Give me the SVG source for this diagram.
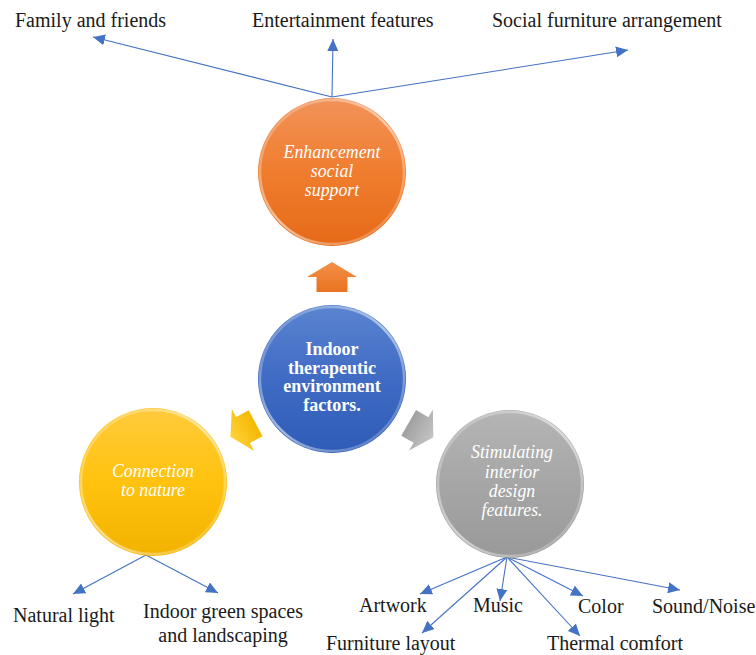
<svg xmlns="http://www.w3.org/2000/svg" width="756" height="655" viewBox="0 0 756 655">
<defs>
<style>
.lbl{font-family:"Liberation Serif","Times New Roman",serif;font-size:20px;fill:#1a1a1a}
.ct{font-family:"Liberation Serif","Times New Roman",serif;font-size:17.8px;font-style:italic;fill:#ffffff;text-anchor:middle}
.cb{font-family:"Liberation Serif","Times New Roman",serif;font-size:18px;font-weight:bold;fill:#ffffff;text-anchor:middle}
.con{stroke:#4472C4;stroke-width:1.1;fill:none;marker-end:url(#ah)}
.rim{fill:none;stroke:url(#rimg);stroke-width:2.5}
</style>
<marker id="ah" markerUnits="userSpaceOnUse" markerWidth="13" markerHeight="11" refX="12" refY="5.5" orient="auto">
<path d="M0,0 L12,5.5 L0,11 z" fill="#4472C4"/>
</marker>
<linearGradient id="gOr" x1="0" y1="0" x2="0" y2="1">
<stop offset="0" stop-color="#F2935A"/><stop offset="0.5" stop-color="#F07D2E"/><stop offset="1" stop-color="#E56A18"/>
</linearGradient>
<linearGradient id="gBl" x1="0" y1="0" x2="0" y2="1">
<stop offset="0" stop-color="#5B84D0"/><stop offset="0.5" stop-color="#3F6BC4"/><stop offset="1" stop-color="#2E5CB6"/>
</linearGradient>
<linearGradient id="gYe" x1="0" y1="0" x2="0" y2="1">
<stop offset="0" stop-color="#FFCB3C"/><stop offset="0.5" stop-color="#FFC20E"/><stop offset="1" stop-color="#F2B300"/>
</linearGradient>
<linearGradient id="gGr" x1="0" y1="0" x2="0" y2="1">
<stop offset="0" stop-color="#B5B5B5"/><stop offset="0.5" stop-color="#A6A6A6"/><stop offset="1" stop-color="#999999"/>
</linearGradient>
<linearGradient id="rimg" x1="0" y1="0" x2="1" y2="1">
<stop offset="0" stop-color="#ffffff" stop-opacity="0.1"/><stop offset="0.5" stop-color="#ffffff" stop-opacity="0.55"/><stop offset="1" stop-color="#ffffff" stop-opacity="0.1"/>
</linearGradient>
<linearGradient id="aOr" x1="0" y1="0" x2="0" y2="1">
<stop offset="0" stop-color="#F4904A"/><stop offset="1" stop-color="#E8731F"/>
</linearGradient>
<linearGradient id="aYe" x1="0" y1="0" x2="0" y2="1">
<stop offset="0" stop-color="#FFD23A"/><stop offset="1" stop-color="#F5B800"/>
</linearGradient>
<linearGradient id="aGr" x1="0" y1="0" x2="0" y2="1">
<stop offset="0" stop-color="#C4C4C4"/><stop offset="1" stop-color="#A0A0A0"/>
</linearGradient>
<path id="upArrow" d="M0,-15 L25,0 L15.5,0 L15.5,15 L-15.5,15 L-15.5,0 L-25,0 Z"/>
</defs>
<rect width="756" height="655" fill="#ffffff"/>

<g id="connectors">
<path class="con" d="M332,97 L93,37"/>
<path class="con" d="M332,97 L333,39"/>
<path class="con" d="M332,97 L628,50"/>
<path class="con" d="M146,555 L73,594"/>
<path class="con" d="M146,555 L218,593"/>
<path class="con" d="M507,557 L420,594"/>
<path class="con" d="M507,557 L422,633"/>
<path class="con" d="M507,557 L500,601"/>
<path class="con" d="M507,557 L580,636"/>
<path class="con" d="M507,557 L583,596"/>
<path class="con" d="M507,557 L680,590"/>
</g>

<g id="block-arrows">
<use href="#upArrow" transform="translate(332,277)" fill="url(#aOr)"/>
<use href="#upArrow" transform="translate(243,430) rotate(-118) scale(0.95)" fill="url(#aYe)"/>
<use href="#upArrow" transform="translate(421,430) rotate(120) scale(0.95)" fill="url(#aGr)"/>
</g>

<g id="node-social">
<circle cx="332" cy="172" r="74" fill="url(#gOr)"/>
<circle class="rim" cx="332" cy="172" r="72"/>
<text class="ct" x="332" y="158">Enhancement</text>
<text class="ct" x="332" y="177">social</text>
<text class="ct" x="332" y="196">support</text>
</g>

<g id="node-center">
<circle cx="332" cy="379" r="74" fill="url(#gBl)"/>
<circle class="rim" cx="332" cy="379" r="72"/>
<text class="cb" x="332" y="355">Indoor</text>
<text class="cb" x="332" y="373.5">therapeutic</text>
<text class="cb" x="332" y="392">environment</text>
<text class="cb" x="332" y="411">factors.</text>
</g>

<g id="node-nature">
<circle cx="153" cy="482" r="74" fill="url(#gYe)"/>
<circle class="rim" cx="153" cy="482" r="72"/>
<text class="ct" x="153" y="477">Connection</text>
<text class="ct" x="153" y="496">to nature</text>
</g>

<g id="node-design">
<circle cx="510" cy="484" r="74" fill="url(#gGr)"/>
<circle class="rim" cx="510" cy="484" r="72"/>
<text class="ct" x="512" y="458">Stimulating</text>
<text class="ct" x="512" y="477.5">interior</text>
<text class="ct" x="512" y="497">design</text>
<text class="ct" x="512" y="516">features.</text>
</g>

<g id="labels">
<text class="lbl" x="15" y="27">Family and friends</text>
<text class="lbl" x="252" y="27">Entertainment features</text>
<text class="lbl" x="492" y="27">Social furniture arrangement</text>
<text class="lbl" x="13" y="622">Natural light</text>
<text class="lbl" x="223" y="618" text-anchor="middle">Indoor green spaces</text>
<text class="lbl" x="223" y="642" text-anchor="middle">and landscaping</text>
<text class="lbl" x="359" y="612">Artwork</text>
<text class="lbl" x="473" y="612">Music</text>
<text class="lbl" x="578" y="613">Color</text>
<text class="lbl" x="652" y="613">Sound/Noise</text>
<text class="lbl" x="326" y="650">Furniture layout</text>
<text class="lbl" x="547" y="650">Thermal comfort</text>
</g>
</svg>
